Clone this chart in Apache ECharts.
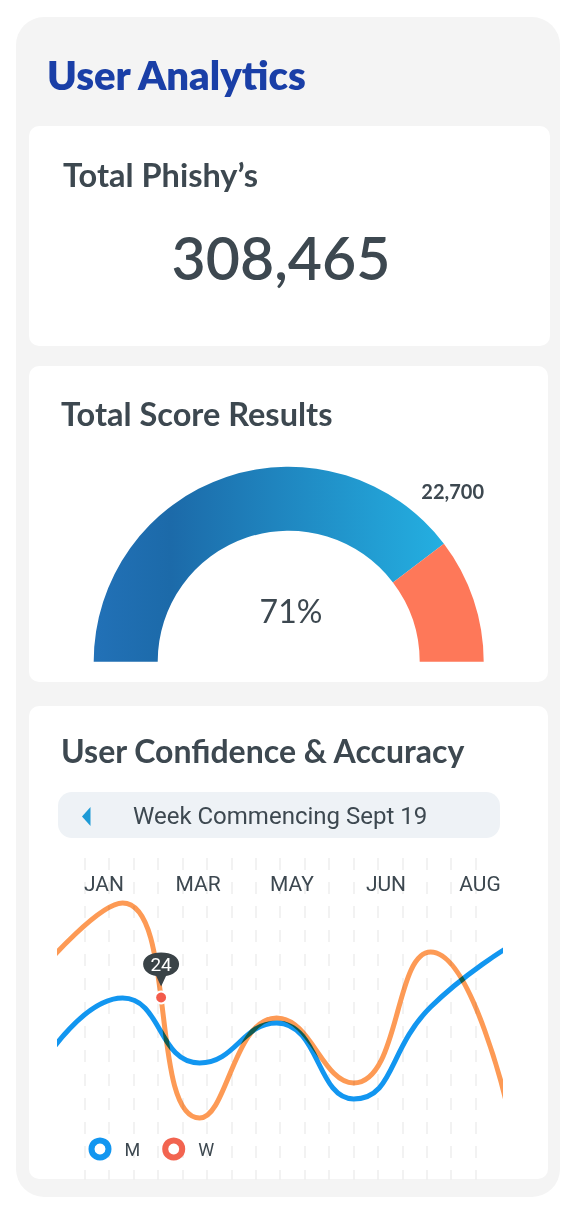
<!DOCTYPE html>
<html><head><meta charset="utf-8">
<script src="https://cdn.jsdelivr.net/npm/echarts@6/dist/echarts.min.js"></script>
<style>
html,body{margin:0;padding:0;background:#fff}
#c{width:576px;height:1215px}
</style>
</head><body><div id="c"></div>
<script>
// ---- data ----
const pageTitle = 'User Analytics';
const totalLabel = 'Total Phishy\u2019s';
const totalValue = '308,465';
const scoreTitle = 'Total Score Results';
const gaugeNames = ['Score', 'Remaining'];
const gaugeValues = [79.3, 20.7];
const gaugePercentLabel = '71%';
const gaugeValueLabel = '22,700';
const chartTitle = 'User Confidence & Accuracy';
const weekLabel = 'Week Commencing Sept 19';
const monthLabels = ['JAN', 'MAR', 'MAY', 'JUN', 'AUG'];
const pointIndex = [0, 1, 2, 3, 4, 5, 6];
const seriesM = [28.4, 52.8, 26.8, 42.8, 12.4, 49.2, 73.0];
const seriesW = [66.0, 90.8, 4.8, 44.8, 18.8, 71.2, 8.8];
const markerPoint = [1.5, 53];
const markerLabel = '24';
const legendNames = ['M', 'W'];

// ---- style ----
const DARK = '#3d4850';
const BLUE = '#1296f0';
const ORANGE = '#fd9a55';
const RED = '#f26450';

const chart = echarts.init(document.getElementById('c'), null, {renderer: 'svg', width: 576, height: 1215});

const bg = (x, y, w, h, r, fill) => ({type: 'rect', z: -100, silent: true, shape: {x, y, width: w, height: h, r}, style: {fill}});
const txt = (x, y, text, font, fill, align) => ({type: 'text', z: 100, silent: true, x, y,
  style: {text, font, fill, textAlign: align || 'left', textVerticalAlign: 'middle'}});

const option = {
  animation: false,
  graphic: {elements: [
    bg(16, 17, 544, 1180, 28, '#f4f4f4'),
    bg(29, 126, 521, 220, 10, '#ffffff'),
    bg(29, 366, 519, 316, 10, '#ffffff'),
    bg(29, 706, 519, 473, 10, '#ffffff'),
    bg(58, 792, 442, 46, 14, '#eef2f6'),
    {type: 'polygon', z: -50, silent: true, shape: {points: [[90.5, 807], [90.5, 826], [82, 816.5]]}, style: {fill: '#1d9ad6'}},
    txt(47, 75, pageTitle, '800 40px Lato', '#1a3fa7'),
    txt(63, 174, totalLabel, 'bold 32.5px Lato', DARK),
    txt(281, 257, totalValue, '600 59px Lato', DARK, 'center'),
    txt(61, 413, scoreTitle, 'bold 32.5px Lato', DARK),
    txt(291, 610, gaugePercentLabel, '32px Lato', DARK, 'center'),
    txt(484, 491, gaugeValueLabel, 'bold 20px Lato', DARK, 'right'),
    txt(61, 750, chartTitle, 'bold 32px Lato', DARK),
    txt(133, 816, weekLabel, '24px Roboto', DARK)
  ]},
  legend: {
    data: [
      {name: legendNames[0], itemStyle: {color: '#ffffff', borderColor: BLUE, borderWidth: 6}},
      {name: legendNames[1], itemStyle: {color: '#ffffff', borderColor: RED, borderWidth: 6}}
    ],
    icon: 'circle', itemWidth: 17, itemHeight: 17, itemGap: 22,
    left: 88.5, top: 1137.5, padding: 0,
    textStyle: {fontFamily: 'Roboto', fontSize: 18, color: DARK, lineHeight: 17, padding: [0, 0, 0, 11]}
  },
  grid: [
    {left: 60, top: 880, width: 440, height: 250},
    {left: 60.4, top: 858, width: 439.6, height: 322},
    {left: 57, top: 871, width: 470, height: 1}
  ],
  xAxis: [
    {gridIndex: 0, type: 'value', min: 0.187, max: 5.901, show: false},
    {gridIndex: 1, type: 'value', min: 0, max: 18, interval: 1,
      axisLine: {show: false}, axisTick: {show: false}, axisLabel: {show: false},
      splitLine: {show: true, showMinLine: false, showMaxLine: false,
        lineStyle: {color: '#efefef', width: 1.6, type: [12, 12]}}},
    {gridIndex: 2, type: 'category', data: monthLabels, boundaryGap: true,
      axisLine: {show: false}, axisTick: {show: false}, splitLine: {show: false},
      axisLabel: {margin: 1, fontSize: 21, fontFamily: 'Roboto', color: DARK}}
  ],
  yAxis: [
    {gridIndex: 0, type: 'value', min: 0, max: 100, show: false},
    {gridIndex: 1, type: 'value', min: 0, max: 1, show: false},
    {gridIndex: 2, type: 'value', show: false}
  ],
  series: [
    {type: 'pie', silent: true, center: [288.7, 661.7], radius: [131, 195],
      startAngle: 180, endAngle: 0, label: {show: false}, labelLine: {show: false},
      emphasis: {disabled: true},
      data: [
        {name: gaugeNames[0], value: gaugeValues[0], itemStyle: {color: {type: 'linear', x: 0, y: 0, x2: 1, y2: 0,
          colorStops: [{offset: 0, color: '#2271b7'}, {offset: 0.22, color: '#1c6aa9'}, {offset: 1, color: '#24afe1'}]}}},
        {name: gaugeNames[1], value: gaugeValues[1], itemStyle: {color: '#fe7859'}}
      ]},
    {name: legendNames[0], type: 'line', xAxisIndex: 0, yAxisIndex: 0, clip: true, smooth: 0.5,
      symbol: 'none', z: 3, lineStyle: {color: BLUE, width: 5}, itemStyle: {color: BLUE},
      data: pointIndex.map((x, i) => [x, seriesM[i]])},
    {name: legendNames[1], type: 'line', xAxisIndex: 0, yAxisIndex: 0, clip: true, smooth: 0.5,
      symbol: 'none', z: 4, lineStyle: {color: ORANGE, width: 5}, itemStyle: {color: ORANGE},
      data: pointIndex.map((x, i) => [x, seriesW[i]]),
      markPoint: {silent: true, animation: false, data: [
        {coord: markerPoint, symbol: 'path://M16.5,0 C26,0 33,4 33,10.5 C33,17 27,20.5 21,21.5 L16.5,31 L12,21.5 C6,20.5 0,17 0,10.5 C0,4 7,0 16.5,0 Z',
          symbolSize: [36, 34], symbolOffset: [0, -28], itemStyle: {color: '#3a4347'},
          label: {show: true, formatter: markerLabel, color: '#ffffff', fontSize: 19, fontFamily: 'Roboto', offset: [0, -5]}},
        {coord: markerPoint, symbol: 'circle', symbolSize: 12,
          itemStyle: {color: '#f35b4b', borderColor: '#ffffff', borderWidth: 2}, label: {show: false}}
      ]}}
  ]
};
chart.setOption(option);
chart.getZr().refreshImmediately && chart.getZr().refreshImmediately();

// darken where the two lines overlap: multiply blend on the orange stroke and its wrapping groups
function blend() {
  const svg = document.querySelector('#c svg');
  if (!svg) return;
  svg.querySelectorAll('path').forEach(p => {
    if (getComputedStyle(p).stroke !== 'rgb(253, 154, 85)') return;
    let el = p;
    while (el && el !== svg) {
      if (el.style.mixBlendMode !== 'multiply') el.style.mixBlendMode = 'multiply';
      el = el.parentNode;
    }
  });
}
blend();
new MutationObserver(blend).observe(document.getElementById('c'), {subtree: true, childList: true});
setTimeout(blend, 50);
</script>
</body></html>
